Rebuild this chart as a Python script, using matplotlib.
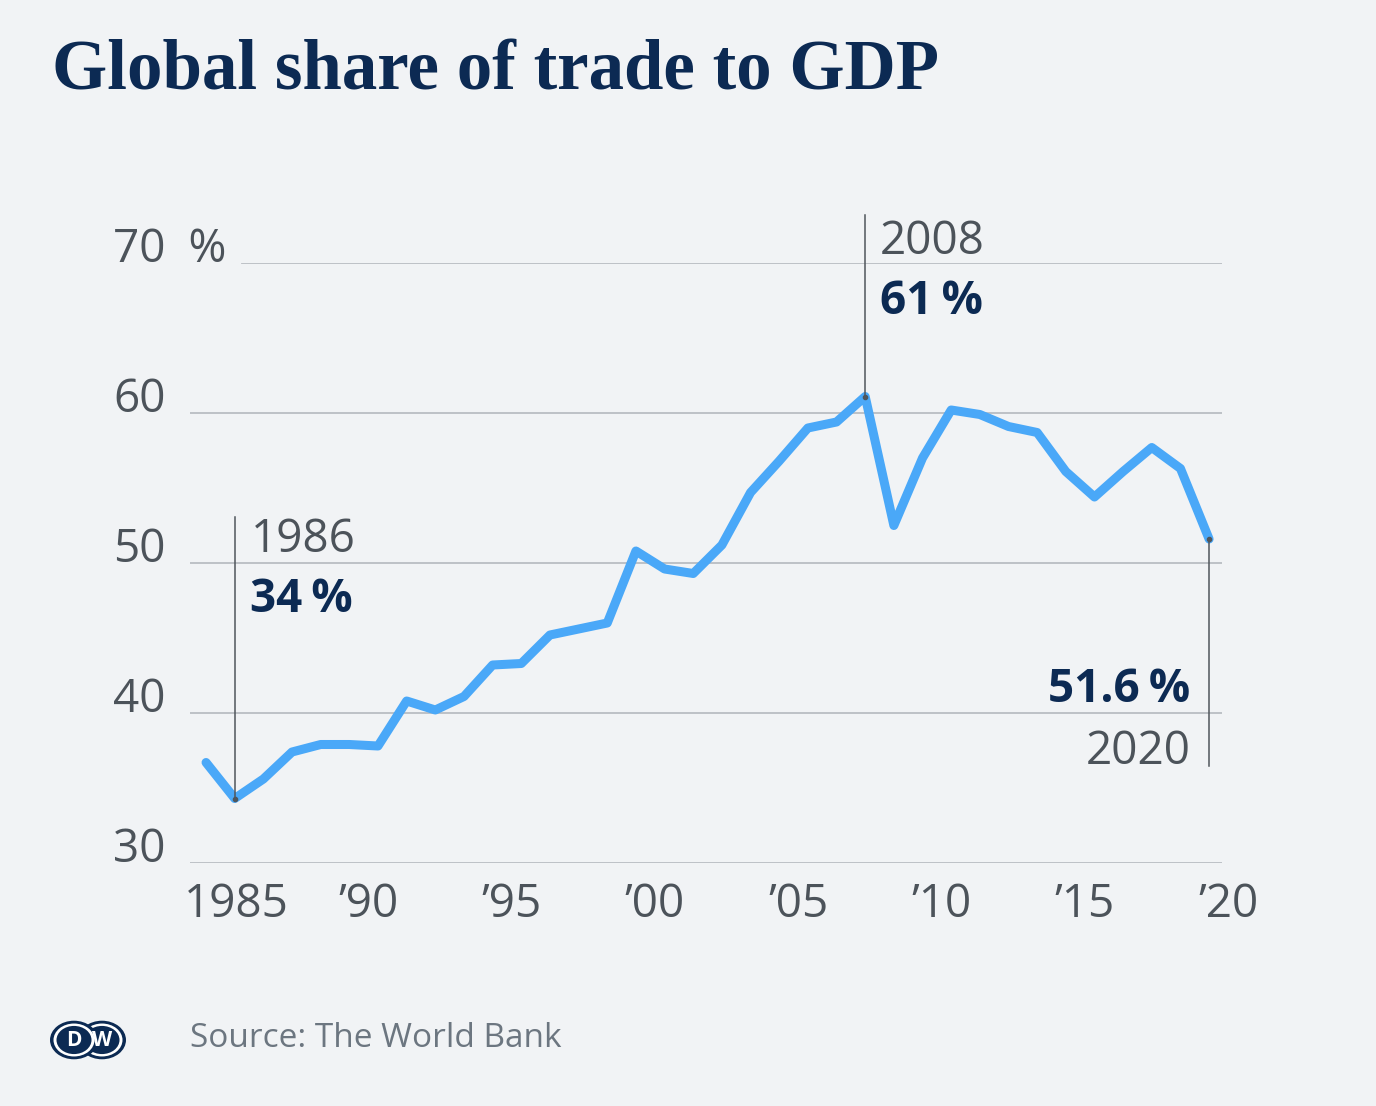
import matplotlib
matplotlib.use("Agg")
from matplotlib import pyplot as plt
from matplotlib.patches import Circle
from matplotlib.transforms import ScaledTranslation, blended_transform_factory

# World Bank: trade (% of GDP), world
years = list(range(1985, 2021))
trade_share = [
    36.7, 34.3, 35.6, 37.4, 37.9, 37.9, 37.8, 40.8, 40.2, 41.1,
    43.2, 43.3, 45.2, 45.6, 46.0, 50.8, 49.6, 49.3, 51.2, 54.7,
    56.8, 59.0, 59.4, 61.1, 52.5, 57.0, 60.2, 59.9, 59.1, 58.7,
    56.1, 54.4, 56.1, 57.7, 56.3, 51.6,
]
y_ticks = [30, 40, 50, 60, 70]
y_labels = ["30", "40", "50", "60", "70\u2002%"]
x_ticks = [1985, 1990, 1995, 2000, 2005, 2010, 2015, 2020]
x_labels = ["1985", "\u201990", "\u201995", "\u201900", "\u201905", "\u201910", "\u201915", "\u201920"]

BG = "#f1f3f5"
NAVY = "#0c2a53"
GREY_TXT = "#4c535a"
GRID = "#b9bdc3"
LINE = "#4aa8f8"
ANNO = "#50565c"
FS = 33

plt.rcParams["font.family"] = ["Open Sans", "DejaVu Sans"]

fig = plt.figure(figsize=(13.76, 11.06), dpi=100, facecolor=BG)
ax = fig.add_axes([190 / 1376, 243 / 1106, 1032 / 1376, 600 / 1106])
ax.set_facecolor(BG)
ax.set_xlim(1984.44, 2020.45)
ax.set_ylim(30, 70)
for s in ax.spines.values():
    s.set_visible(False)

# gridlines; the top one starts after the "70 %" label
for v in y_ticks:
    start = 0.05 if v == 70 else 0.0
    ax.axhline(v, xmin=start, xmax=1, color=GRID, lw=1.3, zorder=1)

# y labels drawn as text so "70 %" can hang to the right
ytrans = blended_transform_factory(fig.transFigure, ax.transData)
for v, lab in zip(y_ticks, y_labels):
    ax.text(113 / 1376, v + 0.1, lab, transform=ytrans, ha="left", va="baseline",
            fontsize=FS, color=GREY_TXT)
ax.set_yticks([])

ax.set_xticks(x_ticks)
ax.set_xticklabels(x_labels, fontsize=FS, color=GREY_TXT)
ax.tick_params(axis="x", length=0, pad=14)
for i, lab in enumerate(ax.get_xticklabels()):
    shift = 0.3 if i == 0 else 0.19
    lab.set_transform(lab.get_transform() + ScaledTranslation(shift, 0, fig.dpi_scale_trans))

ax.plot(years, trade_share, color=LINE, lw=6.5, solid_joinstyle="round",
        solid_capstyle="round", zorder=3)

# annotations
def mark(year, top, bottom):
    v = trade_share[years.index(year)]
    ax.plot([year, year], [bottom, top], color=ANNO, lw=1.1, zorder=4, clip_on=False)
    ax.plot(year, v, "o", color=ANNO, ms=3, zorder=5)

mark(1986, 53.1, trade_share[1])
ax.text(1986.55, 50.7, "1986", fontsize=FS, color=GREY_TXT, va="baseline", ha="left")
ax.text(1986.55, 46.7, "34\u2009%", fontsize=FS, color=NAVY, fontweight="bold", va="baseline", ha="left")

mark(2008, 73.2, trade_share[years.index(2008)])
ax.text(2008.5, 70.6, "2008", fontsize=FS, color=GREY_TXT, va="baseline", ha="left")
ax.text(2008.5, 66.6, "61\u2009%", fontsize=FS, color=NAVY, fontweight="bold", va="baseline", ha="left")

mark(2020, trade_share[-1], 36.5)
ax.text(2019.35, 40.7, "51.6\u2009%", fontsize=FS, color=NAVY, fontweight="bold", va="baseline", ha="right")
ax.text(2019.35, 36.6, "2020", fontsize=FS, color=GREY_TXT, va="baseline", ha="right")

fig.text(52 / 1376, 1 - 90 / 1106, "Global share of trade to GDP", fontsize=51,
         family="Liberation Serif", fontweight="bold", color=NAVY, va="baseline", ha="left")

fig.text(190 / 1376, 1 - 1047 / 1106, "Source: The World Bank", fontsize=24,
         color="#6c7680", va="baseline", ha="left")

# DW logo
ly, r = 1106 - 1040, 24
for cx, letter in [(102, "W"), (74, "D")]:
    for rad, col in [(r, NAVY), (r - 3.5, "white"), (r - 6.5, NAVY)]:
        fig.patches.append(Circle((cx / 1376, ly / 1106), rad / 1376, transform=fig.transFigure,
                                  facecolor=col, edgecolor="none"))
    fig.text(cx / 1376, ly / 1106, letter, fontsize=15, fontweight="bold", color="white",
             ha="center", va="center")

fig.savefig("out.png", dpi=100, facecolor=BG)
